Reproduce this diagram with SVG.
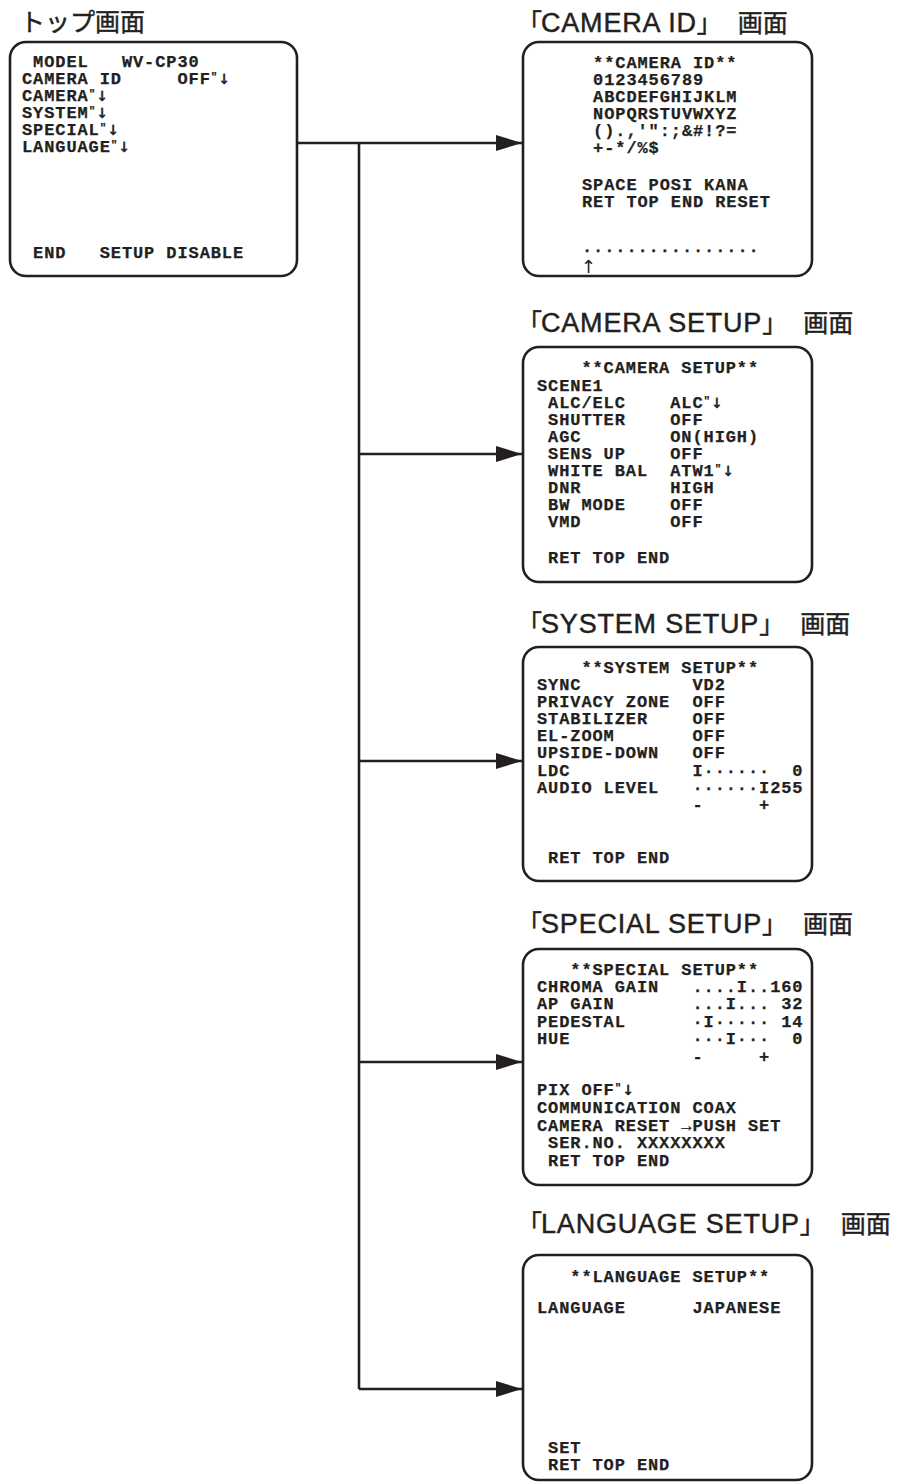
<svg xmlns="http://www.w3.org/2000/svg" width="899" height="1483" viewBox="0 0 899 1483" xml:space="preserve">
<style>
.bg{fill:#ffffff}
.box{fill:#ffffff;stroke:#231f20;stroke-width:2.6}
.ln{fill:none;stroke:#231f20;stroke-width:2.6}
.ttl{font-family:"Liberation Sans","Noto Sans CJK JP",sans-serif;font-size:27px;letter-spacing:0.8px;fill:#231f20;stroke:#231f20;stroke-width:0.45;white-space:pre}
.cj{font-family:"Noto Sans CJK JP",sans-serif;font-size:25px;letter-spacing:0}
.m{font-family:"Liberation Mono","DejaVu Sans Mono",monospace;font-weight:bold;font-size:17px;letter-spacing:0.9px;fill:#231f20;stroke:#231f20;stroke-width:0.25;white-space:pre}
.q{font-size:11px}
.ar{font-family:"DejaVu Sans",sans-serif;font-weight:bold;font-size:14px;letter-spacing:0}
.up{font-family:"DejaVu Sans",sans-serif;font-weight:normal;font-size:18px;stroke-width:0}
</style>
<defs>
<marker id="ah" markerUnits="userSpaceOnUse" markerWidth="26" markerHeight="16" refX="26" refY="8" orient="auto">
<path d="M0,0 L26,8 L0,16 Z" fill="#231f20"/>
</marker>
</defs>
<rect class="bg" x="0" y="0" width="899" height="1483"/>

<g id="connectors">
<path class="ln" d="M297,143 H522" marker-end="url(#ah)"/>
<path class="ln" d="M359,143 V1389"/>
<path class="ln" d="M359,454 H522" marker-end="url(#ah)"/>
<path class="ln" d="M359,761 H522" marker-end="url(#ah)"/>
<path class="ln" d="M359,1062 H522" marker-end="url(#ah)"/>
<path class="ln" d="M359,1389 H522" marker-end="url(#ah)"/>
</g>

<g id="top">
<text class="ttl" x="20" y="31"><tspan class="cj">トップ画面</tspan></text>
<rect class="box" x="10" y="42" width="287" height="234" rx="16"/>
<text class="m" x="22" y="67"> MODEL   WV-CP30</text>
<text class="m" x="22" y="84">CAMERA ID     OFF<tspan class="q" dy="-4">"</tspan><tspan class="ar" dy="4">↓</tspan></text>
<text class="m" x="22" y="101">CAMERA<tspan class="q" dy="-4">"</tspan><tspan class="ar" dy="4">↓</tspan></text>
<text class="m" x="22" y="118">SYSTEM<tspan class="q" dy="-4">"</tspan><tspan class="ar" dy="4">↓</tspan></text>
<text class="m" x="22" y="135">SPECIAL<tspan class="q" dy="-4">"</tspan><tspan class="ar" dy="4">↓</tspan></text>
<text class="m" x="22" y="152">LANGUAGE<tspan class="q" dy="-4">"</tspan><tspan class="ar" dy="4">↓</tspan></text>
<text class="m" x="22" y="258"> END   SETUP DISABLE</text>
</g>

<g id="camera-id">
<text class="ttl" x="517" y="32"><tspan class="cj">「</tspan><tspan dx="-1">CAMERA ID</tspan><tspan class="cj">」</tspan><tspan class="cj" dx="16">画面</tspan></text>
<rect class="box" x="523" y="42" width="289" height="234" rx="16"/>
<text class="m" x="582" y="68"> **CAMERA ID**</text>
<text class="m" x="582" y="85"> 0123456789</text>
<text class="m" x="582" y="102"> ABCDEFGHIJKLM</text>
<text class="m" x="582" y="119"> NOPQRSTUVWXYZ</text>
<text class="m" x="582" y="136"> ().,'":;&amp;#!?=</text>
<text class="m" x="582" y="153"> +-*/%$</text>
<text class="m" x="582" y="190">SPACE POSI KANA</text>
<text class="m" x="582" y="207">RET TOP END RESET</text>
<text class="m" x="582" y="252">................</text>
<text class="m up" x="581" y="273">↑</text>
</g>

<g id="camera-setup">
<text class="ttl" x="517" y="332"><tspan class="cj">「</tspan><tspan dx="-1">CAMERA SETUP</tspan><tspan class="cj">」</tspan><tspan class="cj" dx="16">画面</tspan></text>
<rect class="box" x="523" y="347" width="289" height="235" rx="16"/>
<text class="m" x="537" y="373">    **CAMERA SETUP**</text>
<text class="m" x="537" y="391">SCENE1</text>
<text class="m" x="537" y="408"> ALC/ELC    ALC<tspan class="q" dy="-4">"</tspan><tspan class="ar" dy="4">↓</tspan></text>
<text class="m" x="537" y="425"> SHUTTER    OFF</text>
<text class="m" x="537" y="442"> AGC        ON(HIGH)</text>
<text class="m" x="537" y="459"> SENS UP    OFF</text>
<text class="m" x="537" y="476"> WHITE BAL  ATW1<tspan class="q" dy="-4">"</tspan><tspan class="ar" dy="4">↓</tspan></text>
<text class="m" x="537" y="493"> DNR        HIGH</text>
<text class="m" x="537" y="510"> BW MODE    OFF</text>
<text class="m" x="537" y="527"> VMD        OFF</text>
<text class="m" x="537" y="563"> RET TOP END</text>
</g>

<g id="system-setup">
<text class="ttl" x="517" y="633"><tspan class="cj">「</tspan><tspan dx="-1">SYSTEM SETUP</tspan><tspan class="cj">」</tspan><tspan class="cj" dx="16">画面</tspan></text>
<rect class="box" x="523" y="647" width="289" height="234" rx="16"/>
<text class="m" x="537" y="673">    **SYSTEM SETUP**</text>
<text class="m" x="537" y="690">SYNC          VD2</text>
<text class="m" x="537" y="707">PRIVACY ZONE  OFF</text>
<text class="m" x="537" y="724">STABILIZER    OFF</text>
<text class="m" x="537" y="741">EL-ZOOM       OFF</text>
<text class="m" x="537" y="758">UPSIDE-DOWN   OFF</text>
<text class="m" x="537" y="776">LDC           I······  0</text>
<text class="m" x="537" y="793">AUDIO LEVEL   ······I255</text>
<text class="m" x="537" y="810">              -     +</text>
<text class="m" x="537" y="863"> RET TOP END</text>
</g>

<g id="special-setup">
<text class="ttl" x="517" y="933"><tspan class="cj">「</tspan><tspan dx="-1">SPECIAL SETUP</tspan><tspan class="cj">」</tspan><tspan class="cj" dx="16">画面</tspan></text>
<rect class="box" x="523" y="949" width="289" height="236" rx="16"/>
<text class="m" x="537" y="975">   **SPECIAL SETUP**</text>
<text class="m" x="537" y="992">CHROMA GAIN   ....I..160</text>
<text class="m" x="537" y="1009">AP GAIN       ...I... 32</text>
<text class="m" x="537" y="1027">PEDESTAL      ·I····· 14</text>
<text class="m" x="537" y="1044">HUE           ···I···  0</text>
<text class="m" x="537" y="1062">              -     +</text>
<text class="m" x="537" y="1095">PIX OFF<tspan class="q" dy="-4">"</tspan><tspan class="ar" dy="4">↓</tspan></text>
<text class="m" x="537" y="1113">COMMUNICATION COAX</text>
<text class="m" x="537" y="1131">CAMERA RESET →PUSH SET</text>
<text class="m" x="537" y="1148"> SER.NO. XXXXXXXX</text>
<text class="m" x="537" y="1166"> RET TOP END</text>
</g>

<g id="language-setup">
<text class="ttl" x="517" y="1233"><tspan class="cj">「</tspan><tspan dx="-1">LANGUAGE SETUP</tspan><tspan class="cj">」</tspan><tspan class="cj" dx="16">画面</tspan></text>
<rect class="box" x="523" y="1255" width="289" height="225" rx="16"/>
<text class="m" x="537" y="1282">   **LANGUAGE SETUP**</text>
<text class="m" x="537" y="1313">LANGUAGE      JAPANESE</text>
<text class="m" x="537" y="1453"> SET</text>
<text class="m" x="537" y="1470"> RET TOP END</text>
</g>
</svg>
